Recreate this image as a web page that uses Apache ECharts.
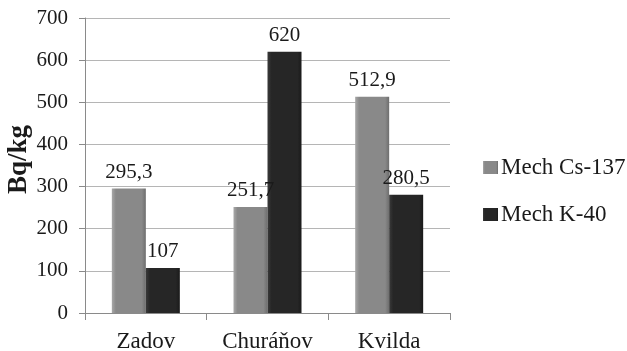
<!DOCTYPE html>
<html><head><meta charset="utf-8">
<script src="https://cdn.jsdelivr.net/npm/echarts@6/dist/echarts.min.js"></script>
<style>html,body{margin:0;padding:0;background:#fff}#c{width:627px;height:351px}</style>
</head><body><div id="c"></div>
<script>
var categories = ['Zadov', 'Churáňov', 'Kvilda'];
var seriesNames = ['Mech Cs-137', 'Mech K-40'];
var cs137 = [295.3, 251.7, 512.9];
var k40 = [107, 620, 280.5];
var yTicks = [0, 100, 200, 300, 400, 500, 600, 700];

var font = 'Liberation Serif';
function fmt(p) { return String(p.value).replace('.', ','); }
function grad(c1, c2, c3) {
  return new echarts.graphic.LinearGradient(0, 0, 1, 0, [
    {offset: 0, color: c1}, {offset: 0.12, color: c2}, {offset: 0.88, color: c2}, {offset: 1, color: c3}
  ]);
}
var chart = echarts.init(document.getElementById('c'));
chart.setOption({
  animation: false,
  grid: {left: 85, right: 177, top: 18, bottom: 38, containLabel: false, outerBoundsMode: 'none'},
  legend: {
    orient: 'vertical', left: 478, top: 151, itemWidth: 15, itemHeight: 13, itemGap: 24,
    icon: 'rect',
    textStyle: {fontFamily: font, fontSize: 23, color: '#1a1a1a', padding: [0, 0, 0, -2]},
    data: seriesNames
  },
  xAxis: {
    type: 'category', data: categories,
    axisLine: {lineStyle: {color: '#8a8a8a', width: 1}},
    axisTick: {show: true, length: 7, lineStyle: {color: '#8a8a8a'}},
    axisLabel: {fontFamily: font, fontSize: 23, color: '#1a1a1a', margin: 17}
  },
  yAxis: {
    type: 'value', min: 0, max: 700, interval: 100,
    name: 'Bq/kg', nameLocation: 'middle', nameGap: 52, nameRotate: 90, nameMoveOverlap: false,
    nameTextStyle: {fontFamily: font, fontSize: 27, fontWeight: 'bold', color: '#1a1a1a', padding: [0, 0, 0, 12]},
    axisLine: {show: true, lineStyle: {color: '#8a8a8a'}},
    axisTick: {show: true, length: 6, lineStyle: {color: '#8a8a8a'}},
    splitLine: {lineStyle: {color: '#b5b5b5'}},
    axisLabel: {fontFamily: font, fontSize: 21, color: '#1a1a1a', margin: 17,
      formatter: function (v) { return yTicks.indexOf(v) >= 0 ? String(v) : ''; }}
  },
  series: [
    {name: seriesNames[0], type: 'bar', data: cs137, barWidth: 34, barGap: '0%',
     itemStyle: {color: grad('#a8a8a8', '#898989', '#6e6e6e')},
     label: {show: true, position: 'top', distance: 6, fontFamily: font, fontSize: 21, color: '#1a1a1a', formatter: fmt}},
    {name: seriesNames[1], type: 'bar', data: k40, barWidth: 34,
     itemStyle: {color: grad('#3a3a3a', '#262626', '#1a1a1a')},
     label: {show: true, position: 'top', distance: 6, fontFamily: font, fontSize: 21, color: '#1a1a1a', formatter: fmt}}
  ]
});
</script></body></html>
